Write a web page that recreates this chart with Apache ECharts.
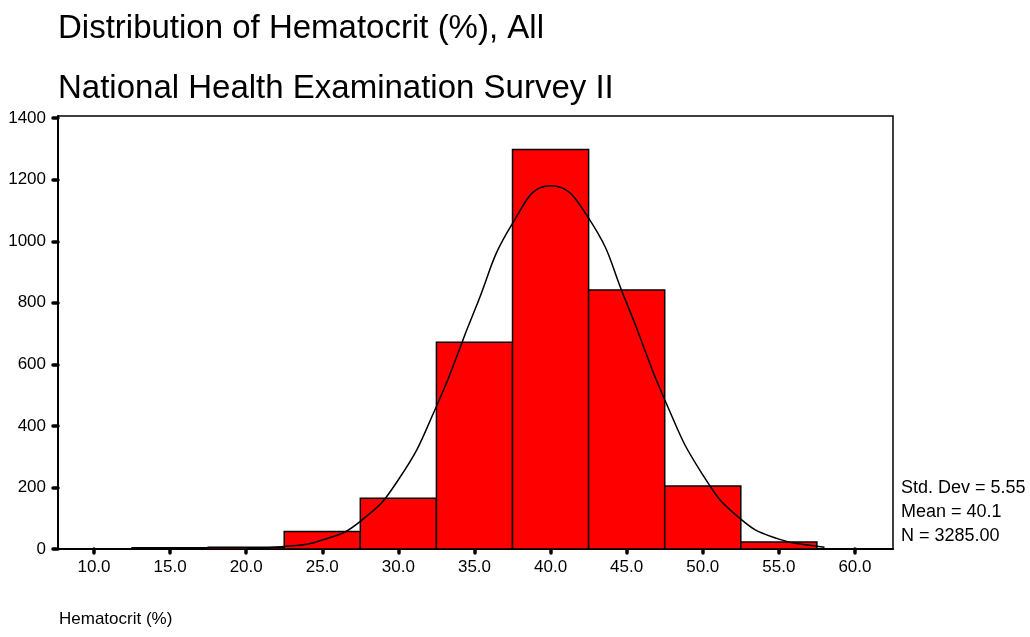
<!DOCTYPE html>
<html>
<head>
<meta charset="utf-8">
<script src="https://cdn.jsdelivr.net/npm/echarts@6/dist/echarts.min.js"></script>
<style>
  html, body { margin: 0; padding: 0; background: #fff; }
  #chart { width: 1030px; height: 637px; }
</style>
</head>
<body>
<div id="chart"></div>
<script>
// histogram bins (lower / upper edge) and counts
const binStart = [12.5, 17.5, 22.5, 27.5, 32.5, 37.5, 42.5, 47.5, 52.5];
const binEnd = [17.5, 22.5, 27.5, 32.5, 37.5, 42.5, 47.5, 52.5, 57.5];
const counts = [4, 6, 57, 165, 672, 1298, 842, 205, 23];

// normal curve
const curveX = [20, 22.5, 25, 27.5, 30, 32.5, 35, 37.5, 40, 42.5, 45, 47.5, 50, 52.5, 55, 57.5, 58];
const curveY = [2, 8, 29, 90, 225, 463, 774, 1058, 1180, 1075, 799, 485, 241, 97, 32, 9, 6];

const xTicks = [10, 15, 20, 25, 30, 35, 40, 45, 50, 55, 60];
const yTicks = [0, 200, 400, 600, 800, 1000, 1200, 1400];

const statLines = ["Std. Dev = 5.55", "Mean = 40.1", "N = 3285.00"];

const font = "Liberation Sans, Arial, sans-serif";

const myChart = echarts.init(document.getElementById("chart"));

const barData = counts.map(function (c, i) {
  return [binStart[i], binEnd[i], c];
});
const curveData = curveX.map(function (x, i) {
  return [x, curveY[i]];
});

const option = {
  animation: false,
  backgroundColor: "#fff",
  title: [
    {
      text: "Distribution of Hematocrit (%), All",
      left: 53,
      top: 7,
      textStyle: { fontFamily: font, fontSize: 33, fontWeight: "normal", color: "#000" },
    },
    {
      text: "National Health Examination Survey II",
      left: 53,
      top: 67,
      textStyle: { fontFamily: font, fontSize: 33, fontWeight: "normal", color: "#000" },
    },
  ],
  grid: {
    left: 58,
    right: 137,
    top: 116,
    bottom: 88,
    show: true,
    borderColor: "#000",
    borderWidth: 1.5,
    backgroundColor: "#fff",
  },
  xAxis: {
    type: "value",
    min: 7.635,
    max: 62.5,
    splitLine: { show: false },
    axisLine: { show: true, onZero: false, lineStyle: { color: "#000", width: 2 } },
    axisTick: {
      show: true,
      customValues: xTicks,
      length: 4,
      lineStyle: { color: "#000", width: 3.5, cap: "round" },
    },
    axisLabel: {
      customValues: xTicks,
      margin: 10,
      fontFamily: font,
      fontSize: 17,
      color: "#000",
      formatter: function (v) {
        return v.toFixed(1);
      },
    },
  },
  yAxis: {
    type: "value",
    min: 0,
    max: 1407,
    splitLine: { show: false },
    axisLine: { show: true, lineStyle: { color: "#000", width: 2 } },
    axisTick: {
      show: true,
      customValues: yTicks,
      length: 5,
      lineStyle: { color: "#000", width: 3.5, cap: "round" },
    },
    axisLabel: {
      customValues: yTicks,
      margin: 12,
      fontFamily: font,
      fontSize: 17,
      color: "#000",
      formatter: function (v) {
        return String(v);
      },
    },
  },
  graphic: [
    {
      type: "text",
      left: 901,
      top: 476,
      style: { text: statLines.join("\n"), font: "18px " + font, fill: "#000", lineHeight: 24 },
    },
    {
      type: "text",
      left: 59,
      top: 611,
      style: { text: "Hematocrit (%)", font: "17px " + font, fill: "#000" },
    },
  ],
  series: [
    {
      type: "custom",
      data: barData,
      encode: { x: [0, 1], y: 2 },
      renderItem: function (params, api) {
        const p0 = api.coord([api.value(0), api.value(2)]);
        const p1 = api.coord([api.value(1), 0]);
        return {
          type: "rect",
          shape: { x: p0[0], y: p0[1], width: p1[0] - p0[0], height: p1[1] - p0[1] },
          style: { fill: "#ff0000", stroke: "#000", lineWidth: 1.5 },
        };
      },
      z: 2,
    },
    {
      type: "line",
      data: curveData,
      smooth: true,
      symbol: "none",
      lineStyle: { color: "#000", width: 1.5 },
      z: 3,
    },
  ],
};

myChart.setOption(option);
</script>
</body>
</html>
